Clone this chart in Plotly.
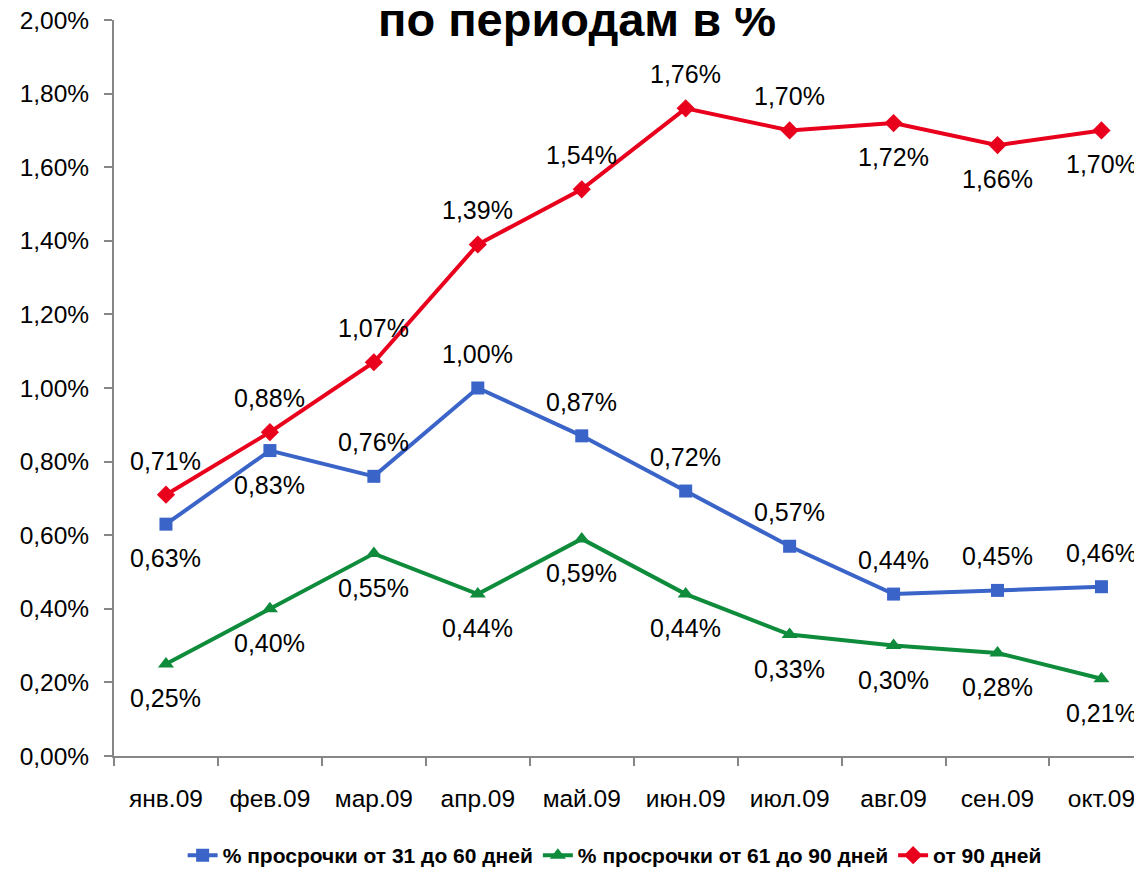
import plotly.graph_objects as go

months = ["янв.09", "фев.09", "мар.09", "апр.09", "май.09", "июн.09", "июл.09", "авг.09", "сен.09", "окт.09"]
s31_60 = [0.63, 0.83, 0.76, 1.00, 0.87, 0.72, 0.57, 0.44, 0.45, 0.46]
s61_90 = [0.25, 0.40, 0.55, 0.44, 0.59, 0.44, 0.33, 0.30, 0.28, 0.21]
s90 = [0.71, 0.88, 1.07, 1.39, 1.54, 1.76, 1.70, 1.72, 1.66, 1.70]
names = ["% просрочки от 31 до 60 дней", "% просрочки от 61 до 90 дней", "от 90 дней"]
title_text = "по периодам в %"
y_ticks = [0, 0.2, 0.4, 0.6, 0.8, 1.0, 1.2, 1.4, 1.6, 1.8, 2.0]

# label placement (style): +1 above, -1 below
pos_31_60 = [-1, -1, 1, 1, 1, 1, 1, 1, 1, 1]
pos_61_90 = [-1] * 10
pos_90 = [1, 1, 1, 1, 1, 1, 1, -1, -1, -1]

def fmt(v):
    return f"{v:.2f}".replace(".", ",") + "%"

FONT = "Liberation Sans, Arial, sans-serif"
series = [
    (s31_60, names[0], "#3A64C8", "square", 13, pos_31_60),
    (s61_90, names[1], "#0E8C3C", "triangle-up", 14, pos_61_90),
    (s90, names[2], "#E8001C", "diamond", 14, pos_90),
]

fig = go.Figure()
annotations = []
for vals, name, color, sym, msize, pos in series:
    fig.add_trace(go.Scatter(
        x=months, y=vals, name="<b>" + name + "</b>", mode="lines+markers",
        line=dict(color=color, width=4),
        marker=dict(symbol=sym, size=msize, color=color),
    ))
    for m, v, p in zip(months, vals, pos):
        annotations.append(dict(
            x=m, y=v, xref="x", yref="y", text=fmt(v), showarrow=False,
            yshift=34 * p, font=dict(family=FONT, size=25, color="black"),
        ))

annotations.append(dict(
    x=0.45, y=1.0, xref="paper", yref="paper", text="<b>" + title_text + "</b>",
    showarrow=False, yanchor="middle", yshift=1,
    font=dict(family=FONT, size=47, color="black"),
))

fig.update_layout(
    width=1134, height=868,
    margin=dict(l=106, r=0, t=12, b=120),
    paper_bgcolor="white", plot_bgcolor="white",
    showlegend=True,
    legend=dict(orientation="h", x=0.487, xanchor="center",
                yref="container", y=0.0, yanchor="bottom",
                font=dict(family=FONT, size=21, color="black"),
                itemwidth=30, tracegroupgap=0),
    annotations=annotations,
    font=dict(family=FONT, size=25, color="black"),
)
fig.update_xaxes(
    type="category", range=[-0.5, 9.39], showline=True, linecolor="#868686", linewidth=2,
    ticks="outside", tickson="boundaries", ticklen=8, tickcolor="#868686", tickwidth=2,
    showgrid=False, tickfont=dict(family=FONT, size=24.5, color="black"),
    ticklabelstandoff=20, automargin=False, ticklabeloverflow="allow",
)
fig.update_yaxes(
    range=[0, 2.0], tickvals=y_ticks, ticktext=[fmt(v) for v in y_ticks],
    showline=True, linecolor="#868686", linewidth=2, ticks="outside", ticklen=8,
    tickcolor="#868686", tickwidth=2, showgrid=False, zeroline=False,
    tickfont=dict(family=FONT, size=24.5, color="black"), ticklabelstandoff=10,
    automargin=False, ticklabeloverflow="allow",
)
fig.write_html("out.html")
